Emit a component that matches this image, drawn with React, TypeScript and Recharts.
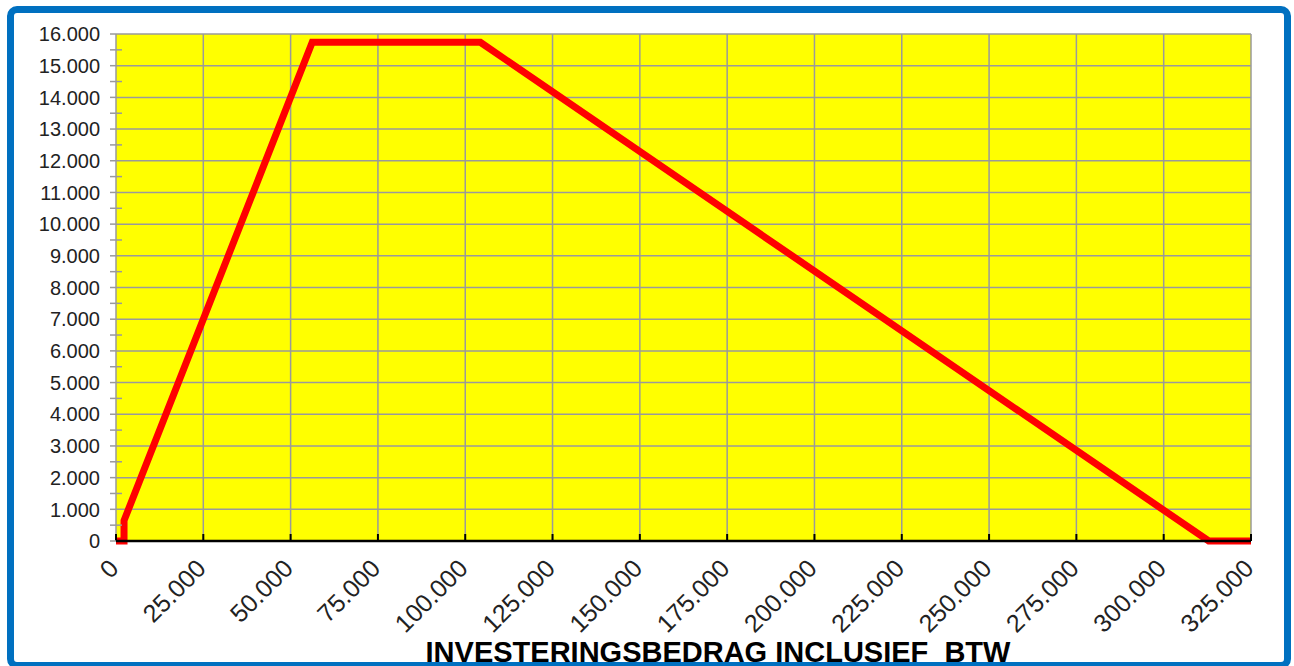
import { CartesianGrid, Line, LineChart, XAxis, YAxis } from "recharts";

// KIA-style deduction curve
const investment = [0, 2300, 2301, 56192, 104335, 312902, 325000];
const deduction = [0, 0, 644, 15737, 15737, 0, 0];

const xTicks = [0, 25000, 50000, 75000, 100000, 125000, 150000, 175000, 200000, 225000, 250000, 275000, 300000, 325000];
const yMajorTicks = [0, 1000, 2000, 3000, 4000, 5000, 6000, 7000, 8000, 9000, 10000, 11000, 12000, 13000, 14000, 15000, 16000];
const yAllTicks = [0, 500, 1000, 1500, 2000, 2500, 3000, 3500, 4000, 4500, 5000, 5500, 6000, 6500, 7000, 7500, 8000, 8500, 9000, 9500, 10000, 10500, 11000, 11500, 12000, 12500, 13000, 13500, 14000, 14500, 15000, 15500, 16000];

const axisTitle = "INVESTERINGSBEDRAG INCLUSIEF\u00a0 BTW";

const data = investment.map((x, i) => ({ investment: x, deduction: deduction[i] }));

const fmt = (v: number) => v.toLocaleString("de-DE");

const FONT = "'Liberation Sans', Arial, sans-serif";

function XTick(props: any) {
  const { x, y, payload } = props;
  const ax = x + 4;
  const ay = y + 29;
  return (
    <g>
      <line x1={x} x2={x} y1={y} y2={y - 7} stroke="#000" strokeWidth={2} />
      <text
        x={ax}
        y={ay}
        textAnchor="end"
        fontSize={25}
        fontFamily={FONT}
        fill="#222"
        transform={`rotate(-45, ${ax}, ${ay})`}
      >
        {fmt(payload.value)}
      </text>
    </g>
  );
}

function YTick(props: any) {
  const { x, y, payload } = props;
  const major = payload.value % 1000 === 0;
  if (!major) {
    return <line x1={x - 6} x2={x + 6} y1={y} y2={y} stroke="#9a9a9a" strokeWidth={1.5} />;
  }
  return (
    <g>
      <line x1={x - 6} x2={x} y1={y} y2={y} stroke="#9a9a9a" strokeWidth={1.5} />
      <text x={x - 16} y={y} dy="0.36em" textAnchor="end" fontSize={20} fontFamily={FONT} fill="#222">
        {fmt(payload.value)}
      </text>
    </g>
  );
}

export default function App() {
  return (
    <div style={{ position: "absolute", left: 0, top: 0, width: 1294, height: 666, background: "#fff", overflow: "hidden" }}>
      <div style={{ position: "absolute", left: 0, top: 0 }}>
        <LineChart width={1294} height={666} data={data} margin={{ top: 34, right: 43, bottom: 0, left: 0 }}>
          <CartesianGrid
            fill="#FFFF00"
            stroke="#9a9a9a"
            strokeWidth={1.5}
            horizontalValues={yMajorTicks}
          />
          <XAxis
            dataKey="investment"
            type="number"
            domain={[0, 325000]}
            ticks={xTicks}
            interval={0}
            height={125}
            tickSize={0}
            tickMargin={0}
            tickLine={false}
            axisLine={{ stroke: "#000", strokeWidth: 2.5 }}
            tick={<XTick />}
          />
          <YAxis
            type="number"
            domain={[0, 16000]}
            ticks={yAllTicks}
            interval={0}
            width={116}
            tickSize={0}
            tickMargin={0}
            tickLine={false}
            axisLine={false}
            tick={<YTick />}
          />
          <Line
            type="linear"
            dataKey="deduction"
            stroke="#FF0000"
            strokeWidth={7}
            dot={false}
            activeDot={false}
            isAnimationActive={false}
          />
        </LineChart>
      </div>
      <div
        style={{
          position: "absolute",
          left: 418,
          width: 600,
          top: 638,
          textAlign: "center",
          fontFamily: FONT,
          fontWeight: "bold",
          fontSize: 29,
          lineHeight: "29px",
          color: "#000",
          whiteSpace: "pre",
        }}
      >
        {axisTitle}
      </div>
      <div
        style={{
          position: "absolute",
          left: 7,
          top: 6,
          width: 1284,
          height: 663,
          boxSizing: "border-box",
          border: "7px solid #0070C0",
          borderRadius: 10,
          pointerEvents: "none",
          zIndex: 3,
        }}
      />
    </div>
  );
}
